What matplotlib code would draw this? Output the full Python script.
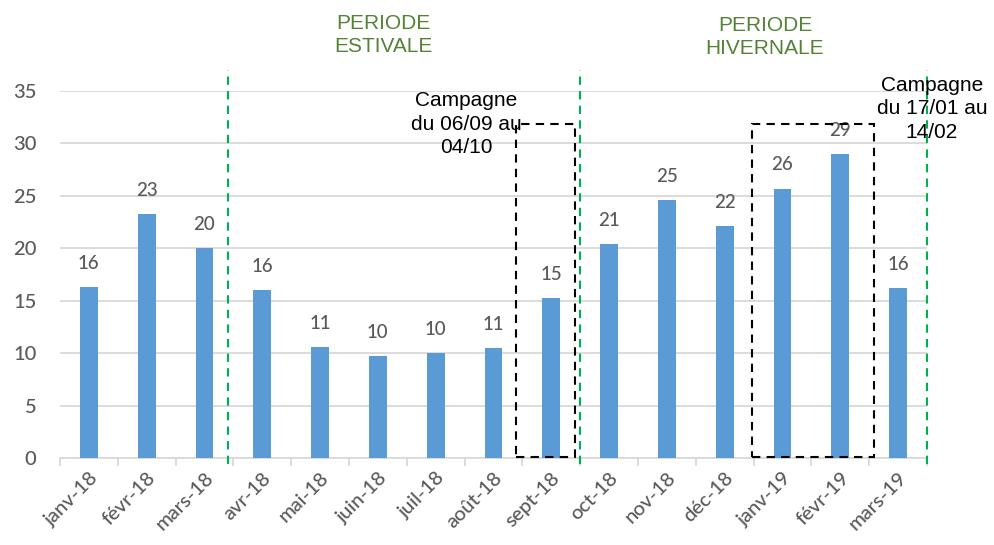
import matplotlib
matplotlib.use("Agg")
import matplotlib.pyplot as plt
from matplotlib.patches import Rectangle
import numpy as np

months = ["janv-18", "févr-18", "mars-18", "avr-18", "mai-18", "juin-18", "juil-18",
          "août-18", "sept-18", "oct-18", "nov-18", "déc-18", "janv-19", "févr-19", "mars-19"]
values = [16.3, 23.3, 20.0, 16.0, 10.6, 9.7, 10.0, 10.5, 15.25, 20.4, 24.6, 22.1, 25.7, 29.0, 16.2]
labels = ["16", "23", "20", "16", "11", "10", "10", "11", "15", "21", "25", "22", "26", "29", "16"]
yticks = [0, 5, 10, 15, 20, 25, 30, 35]

# period separators and campaign boxes (category units)
separators = [2.4, 8.49, 14.5]
campaigns = [(7.39, 8.41), (11.47, 13.58)]
box_top = 31.9

BLUE = "#5B9BD5"
GREY = "#595959"
GRID = "#D9D9D9"
GREEN_LINE = "#00B050"
GREEN_TEXT = "#548235"

fig = plt.figure(figsize=(9.95, 5.45), dpi=100)
ax = fig.add_axes([60 / 995, 1 - 458 / 545, 867 / 995, 367 / 545])

x = np.arange(len(months))
ax.bar(x, values, width=0.31, color=BLUE, zorder=3)

for xi, v, lab in zip(x, values, labels):
    ax.annotate(lab, (xi, v), xytext=(0, 17), textcoords="offset points",
                ha="center", va="center", fontsize=13.5, color=GREY, family="Lato",
                fontweight="medium")

ax.set_xlim(-0.5, len(months) - 0.5)
ax.set_ylim(0, 35)
ax.set_yticks(yticks)
ax.tick_params(axis="y", length=0, pad=17, labelsize=14.5, labelcolor=GREY)
for t in ax.get_yticklabels():
    t.set_family("Lato")
    t.set_fontweight("medium")
ax.grid(axis="y", color=GRID, linewidth=1.3, zorder=0)

ax.set_xticks(x)
ax.set_xticklabels(months, rotation=45, ha="right", rotation_mode="anchor",
                   fontsize=14.5, color=GREY, family="Lato", fontweight="medium")
ax.tick_params(axis="x", which="major", length=0, pad=8)
ax.set_xticks(np.arange(-0.5, len(months)), minor=True)
ax.tick_params(axis="x", which="minor", length=6, color=GRID, width=1.3)

for s in ["top", "right", "left"]:
    ax.spines[s].set_visible(False)
ax.spines["bottom"].set_color(GRID)
ax.spines["bottom"].set_linewidth(1.3)

for sx in separators:
    ax.plot([sx, sx], [-0.6, 37.0], color=GREEN_LINE, linestyle=(0, (4, 3)),
            linewidth=1.5, clip_on=False, zorder=4)

for x0, x1 in campaigns:
    ax.add_patch(Rectangle((x0, 0.1), x1 - x0, box_top - 0.1, fill=False,
                           edgecolor="black", linestyle=(0, (4, 3)), linewidth=1.5,
                           zorder=5, clip_on=False))

def fx(px):
    return px / 995

def fy(py):
    return 1 - py / 545

note = dict(ha="center", va="center", fontsize=15, family="Liberation Sans",
            linespacing=1.27)
fig.text(fx(383), fy(35), "PERIODE\nESTIVALE", color=GREEN_TEXT, **note)
fig.text(fx(765), fy(37), "PERIODE\nHIVERNALE", color=GREEN_TEXT, **note)
fig.text(fx(466), fy(124), "Campagne\ndu 06/09 au\n04/10", color="black", zorder=6, **note)
fig.text(fx(932), fy(109), "Campagne\ndu 17/01 au\n14/02", color="black", zorder=6, **note)

fig.savefig("out.png", dpi=100)
